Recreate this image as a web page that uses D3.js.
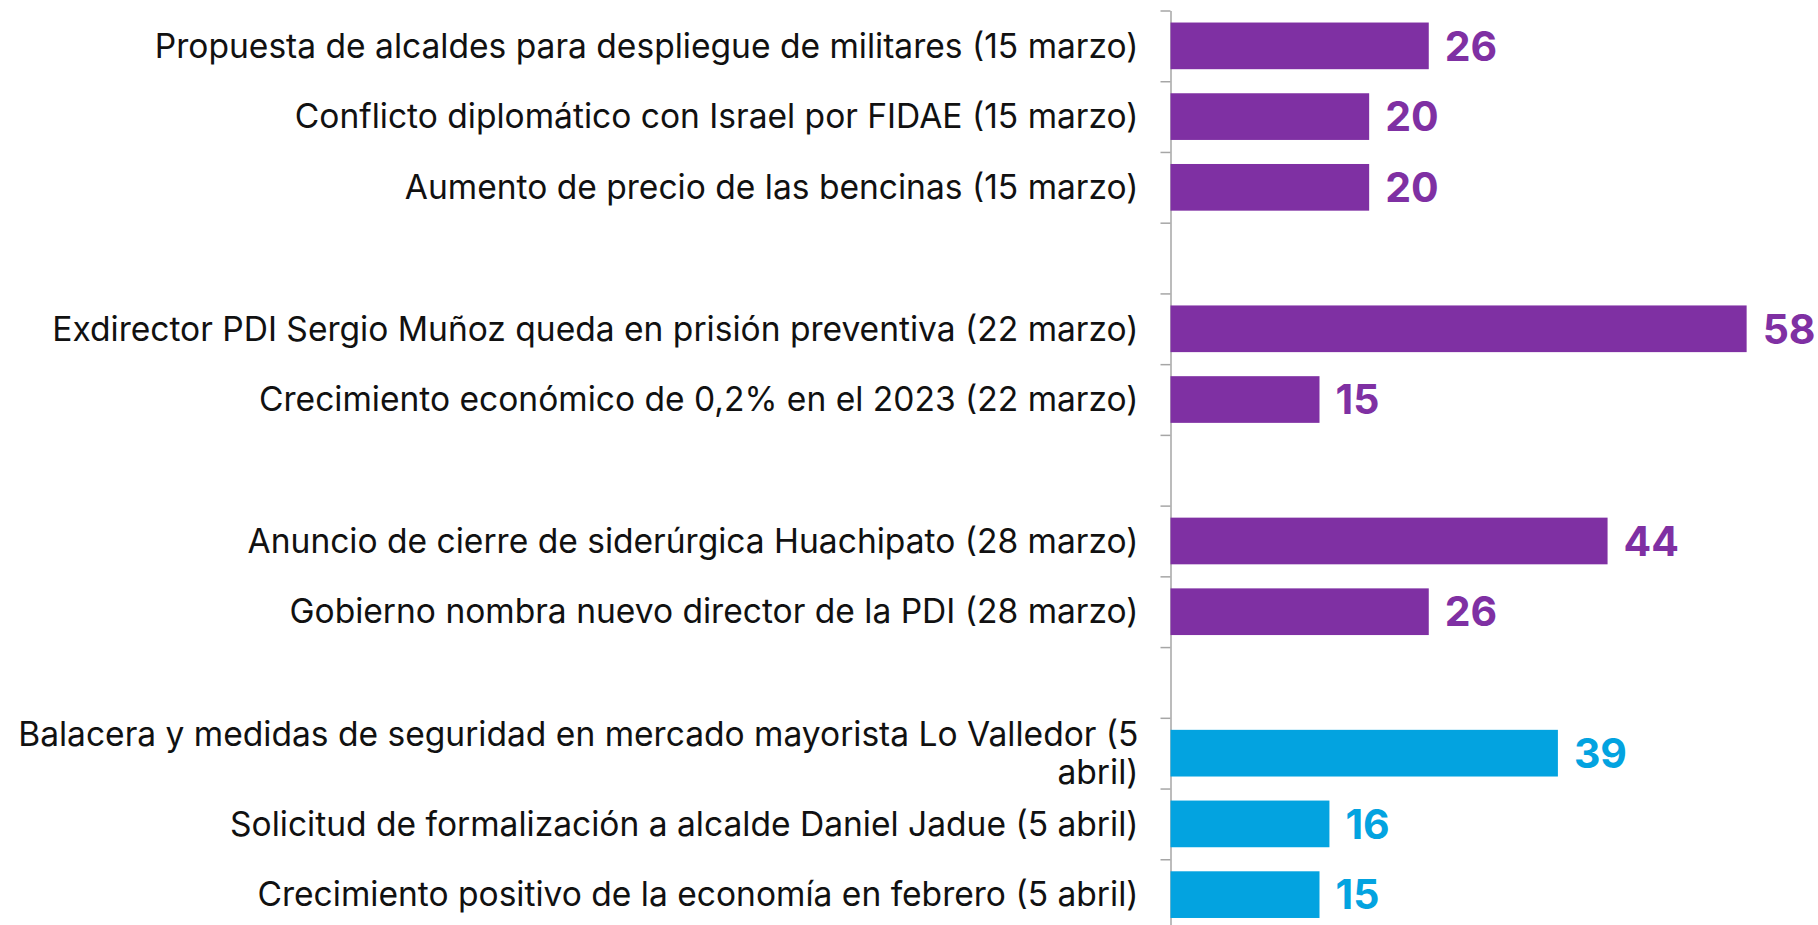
<!DOCTYPE html>
<html>
<head>
<meta charset="utf-8">
<script src="https://cdn.jsdelivr.net/npm/d3@7"></script>
<style>
  body { margin: 0; background: #fff; }
  .cat-label { font-family: Inter, "Open Sans", sans-serif; fill: #111; }
  .val-label { font-family: Inter, "Open Sans", sans-serif; font-weight: 700; }
  .axis path, .axis line { stroke: #a6a6a6; stroke-width: 1.5; }
</style>
</head>
<body>
<div id="chart"></div>
<script>
// rows from top to bottom, "" marks an empty spacer row between weeks
const categories = [
  "Propuesta de alcaldes para despliegue de militares (15 marzo)",
  "Conflicto diplomático con Israel por FIDAE (15 marzo)",
  "Aumento de precio de las bencinas (15 marzo)",
  "",
  "Exdirector PDI Sergio Muñoz queda en prisión preventiva (22 marzo)",
  "Crecimiento económico de 0,2% en el 2023 (22 marzo)",
  "",
  "Anuncio de cierre de siderúrgica Huachipato (28 marzo)",
  "Gobierno nombra nuevo director de la PDI (28 marzo)",
  "",
  "Balacera y medidas de seguridad en mercado mayorista Lo Valledor (5 abril)",
  "Solicitud de formalización a alcalde Daniel Jadue (5 abril)",
  "Crecimiento positivo de la economía en febrero (5 abril)"
];
const values = [26, 20, 20, null, 58, 15, null, 44, 26, null, 39, 16, 15];
const months = ["marzo", "marzo", "marzo", null, "marzo", "marzo", null, "marzo", "marzo", null, "abril", "abril", "abril"];

const colors = { marzo: "#7f30a3", abril: "#03a3e0" };

const width = 1818, height = 925;
const axisX = 1170.5;

let svg = d3.select("#chart").append("svg")
  .attr("width", width)
  .attr("height", height);

let rows = categories.map((c, i) => ({ label: c, value: values[i], month: months[i], idx: i }));

let yScale = d3.scaleBand()
  .domain(d3.range(categories.length))
  .range([10.5, 930])
  .paddingInner(0.34)
  .paddingOuter(0.17);

// tick positions sit on the row boundaries
let yEdges = d3.scaleLinear()
  .domain([0, categories.length])
  .range([10.5, 930]);

let xScale = d3.scaleLinear()
  .domain([0, 60])
  .range([axisX, axisX + 596]);

let yAxis = d3.axisLeft(yEdges)
  .tickValues(d3.range(categories.length + 1))
  .tickFormat("")
  .tickSize(10)
  .tickSizeOuter(0);

svg.append("g")
  .attr("class", "axis")
  .attr("transform", "translate(" + axisX + ",0)")
  .call(yAxis);

let barRows = rows.filter(d => d.value != null);

svg.append("g").selectAll("rect")
  .data(barRows)
  .enter()
  .append("rect")
  .attr("x", xScale(0))
  .attr("y", d => yScale(d.idx))
  .attr("width", d => xScale(d.value) - xScale(0))
  .attr("height", yScale.bandwidth())
  .attr("fill", d => colors[d.month]);

svg.append("g").selectAll("text")
  .data(barRows)
  .enter()
  .append("text")
  .attr("class", "val-label")
  .attr("x", d => xScale(d.value) + 16)
  .attr("y", d => yScale(d.idx) + yScale.bandwidth() / 2)
  .attr("dy", "0.36em")
  .style("font-size", "41px")
  .attr("fill", d => colors[d.month])
  .text(d => d.value);

// category labels, font size fitted so the first label spans like the original
let labelG = svg.append("g");
let probe = labelG.append("text").attr("class", "cat-label").style("font-size", "27px").text(categories[0]);
let fontSize = 27 * 984 / probe.node().getComputedTextLength();
probe.remove();

const labelRight = axisX - 32;
const maxWidth = 1140;
const lineGap = 38;

barRows.forEach(function(d) {
  let t = labelG.append("text")
    .attr("class", "cat-label")
    .attr("text-anchor", "end")
    .attr("x", labelRight)
    .style("font-size", fontSize + "px");

  // simple word wrap
  let words = d.label.split(" ");
  let lines = [];
  let line = [];
  let tmp = t.append("tspan");
  words.forEach(function(w) {
    line.push(w);
    tmp.text(line.join(" "));
    if (tmp.node().getComputedTextLength() > maxWidth && line.length > 1) {
      line.pop();
      lines.push(line.join(" "));
      line = [w];
    }
  });
  lines.push(line.join(" "));
  tmp.remove();

  let cy = yScale(d.idx) + yScale.bandwidth() / 2;
  let y0 = cy - (lines.length - 1) * lineGap / 2;
  lines.forEach(function(l, i) {
    t.append("tspan")
      .attr("x", labelRight)
      .attr("y", y0 + i * lineGap)
      .attr("dy", "0.35em")
      .text(l);
  });
});
</script>
</body>
</html>
